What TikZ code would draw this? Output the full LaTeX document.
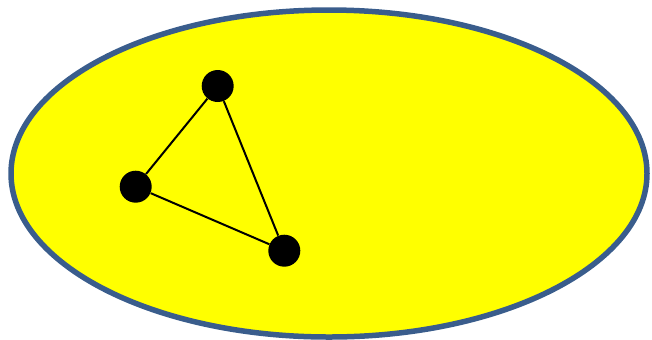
\documentclass[tikz,border=0pt]{standalone}
\usepackage{tikz}
\definecolor{rimblue}{RGB}{58,93,140}
\definecolor{setyellow}{RGB}{255,255,0}
\tikzset{
  vertex/.style={circle,fill=black,inner sep=0pt,minimum size=0.64cm},
  link/.style={line width=0.04cm}
}

\begin{document}
\begin{tikzpicture}[x=0.02cm, y=-0.02cm, line join=round]
  \useasboundingbox (0,0) rectangle (652,339);
  % the set
  \draw[fill=setyellow,draw=rimblue,line width=0.11cm] (329,173.5) ellipse [x radius=318, y radius=163.5];
  % the graph
  \node[vertex] (top) at (217.7,86.0) {};
  \node[vertex] (left) at (135.7,186.7) {};
  \node[vertex] (right) at (284.3,250.7) {};
  \draw[link] (top) -- (left);
  \draw[link] (left) -- (right);
  \draw[link] (right) -- (top);
\end{tikzpicture}
\end{document}
